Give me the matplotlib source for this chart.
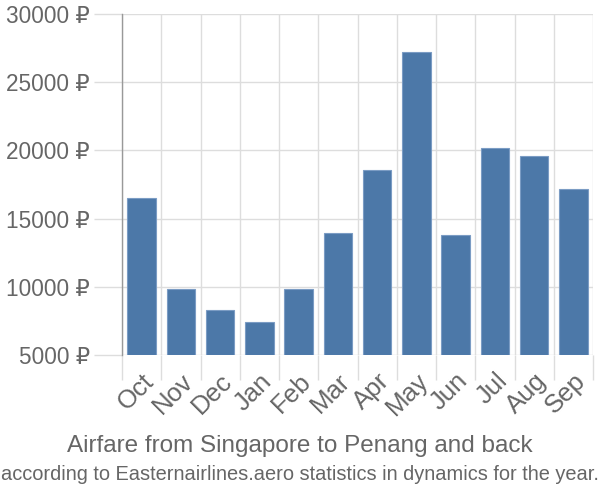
import matplotlib
matplotlib.use("Agg")
import matplotlib.pyplot as plt
import numpy as np

months = ["Oct", "Nov", "Dec", "Jan", "Feb", "Mar", "Apr", "May", "Jun", "Jul", "Aug", "Sep"]
prices = [16500, 9820, 8300, 7400, 9820, 13920, 18550, 27200, 13780, 20150, 19600, 17150]
yticks = [5000, 10000, 15000, 20000, 25000, 30000]
ytick_labels = [f"{v} ₽" for v in yticks]

fam = ["Liberation Sans", "DejaVu Sans"]
plt.rcParams['font.family'] = fam

fig = plt.figure(figsize=(6, 5), dpi=100)
ax = fig.add_axes([122/600, 1-355/500, (593-122)/600, (355-14)/500])

x = np.arange(len(months))
ymin = 5000
ax.bar(x, np.array(prices) - ymin, bottom=ymin, width=0.72, color="#4c78a8",
       edgecolor="#7b9cc4", linewidth=0.8, zorder=3)

ax.set_xlim(-0.5, len(months) - 0.5)
ax.set_ylim(5000, 30000)

ax.set_yticks(yticks)
ax.set_yticklabels(ytick_labels, fontsize=16.3, color="#666666")
ax.tick_params(axis='y', length=20, color="#dddddd", width=1, pad=3)

ax.set_xticks(x)
ax.set_xticklabels(months, rotation=45, ha="right", va="top", rotation_mode="anchor",
                   fontsize=18.5, color="#666666")
ax.tick_params(axis='x', which='major', length=0, pad=10)
ax.set_xticks(np.arange(-0.5, len(months), 1), minor=True)
ax.tick_params(axis='x', which='minor', length=18, color="#dddddd", width=1)

ax.grid(True, axis='y', color="#dddddd", linewidth=1, zorder=0)
ax.grid(True, axis='x', which='minor', color="#dddddd", linewidth=1, zorder=0)

for s in ["top", "right", "bottom"]:
    ax.spines[s].set_visible(False)
ax.spines["left"].set_color("#999999")
ax.spines["left"].set_linewidth(1)
ax.set_axisbelow(True)

fig.text(0.5, 1-446/500, "Airfare from Singapore to Penang and back", ha="center", va="center",
         fontsize=17.5, color="#666666")
fig.text(0.5, 1-475/500, "according to Easternairlines.aero statistics in dynamics for the year.",
         ha="center", va="center", fontsize=14.4, color="#666666")

fig.savefig("out.png", dpi=100)
